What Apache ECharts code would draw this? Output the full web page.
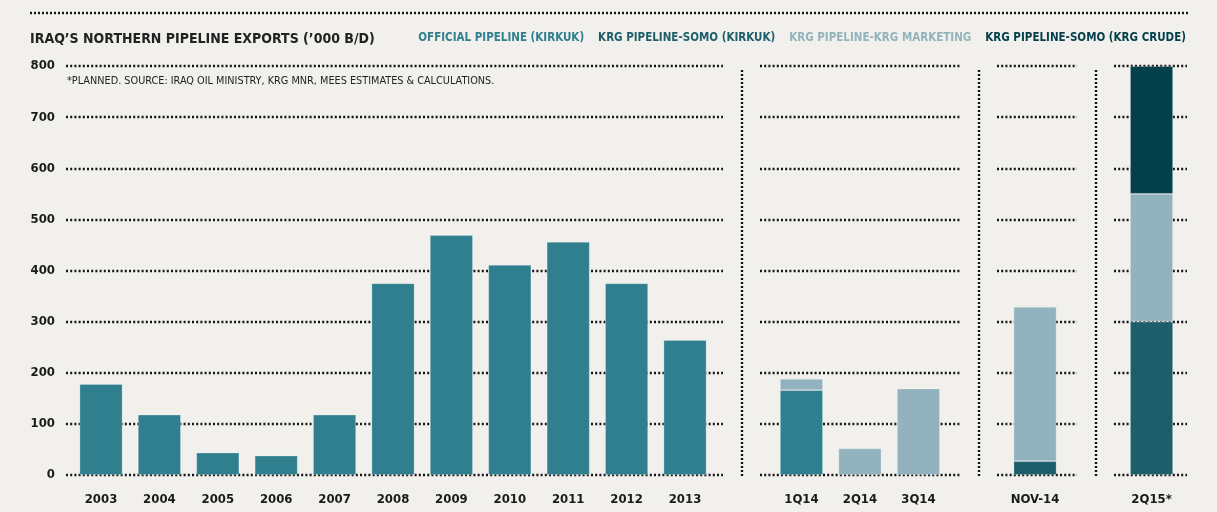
<!DOCTYPE html>
<html>
<head>
<meta charset="utf-8">
<script src="https://cdn.jsdelivr.net/npm/echarts@6/dist/echarts.min.js"></script>
<style>
html,body{margin:0;padding:0;background:#f1f0ed;}
#chart{width:1217px;height:512px;}
</style>
</head>
<body>
<div id="chart"></div>
<script>
// ---- data ----
const yearCats = ['2003','2004','2005','2006','2007','2008','2009','2010','2011','2012','2013'];
const officialYears = [178,118,44,38,118,375,469,411,456,375,264];

const quarterCats = ['1Q14','2Q14','3Q14'];
const officialQuarters = [166,null,null];
const marketingQuarters = [22,52,169];

const monthCats = ['NOV-14'];
const somoKirkukMonth = [27];
const marketingMonth = [302];

const planCats = ['2Q15*'];
const somoKirkukPlan = [300];
const marketingPlan = [250];
const krgCrudePlan = [250];

const yTicks = [0,100,200,300,400,500,600,700,800];

const names = {
  official: 'OFFICIAL PIPELINE (KIRKUK)',
  somoKirkuk: 'KRG PIPELINE-SOMO (KIRKUK)',
  marketing: 'KRG PIPELINE-KRG MARKETING',
  krgCrude: 'KRG PIPELINE-SOMO (KRG CRUDE)'
};
const colors = {
  official: '#2f7f8f',
  somoKirkuk: '#1d5e6a',
  marketing: '#92b3be',
  krgCrude: '#04404b'
};

// ---- layout ----
const FONT = '"Liberation Sans Narrow","DejaVu Sans Condensed",sans-serif';
const TOP = 66, BOTTOM_Y = 475, H = BOTTOM_Y - TOP;
const sections = [
  {bg:[66,657],  bar:[71.8,642.4], cats:yearCats},
  {bg:[760,201], bar:[772.2,175.5], cats:quarterCats},
  {bg:[997,80],  bar:[1005.8,58.5], cats:monthCats},
  {bg:[1114,73], bar:[1122.3,58.5], cats:planCats}
];

const grids = [], xAxes = [], yAxes = [];
sections.forEach((s, i) => {
  grids.push({left:s.bg[0], top:TOP, width:s.bg[1], height:H});
  xAxes.push({type:'category', gridIndex:grids.length-1, data:s.cats, show:false});
  yAxes.push({
    type:'value', gridIndex:grids.length-1, min:0, max:800, interval:100,
    axisLine:{show:false}, axisTick:{show:false},
    axisLabel:{show:i===0, margin:11, color:'#1a1a1a', fontFamily:FONT, fontWeight:'bold', fontSize:13},
    splitLine:{show:true, lineStyle:{color:'#141414', width:2.4, type:[2,2.2]}}
  });
  grids.push({left:s.bar[0], top:TOP, width:s.bar[1], height:H});
  xAxes.push({
    type:'category', gridIndex:grids.length-1, data:s.cats,
    axisLine:{show:false}, axisTick:{show:false},
    axisLabel:{margin:18, color:'#1a1a1a', fontFamily:FONT, fontWeight:'bold', fontSize:13}
  });
  yAxes.push({type:'value', gridIndex:grids.length-1, min:0, max:800, interval:100, show:false, splitLine:{show:false}});
});

function bar(key, axisIdx, data, stack){
  return {
    name:names[key], type:'bar', xAxisIndex:axisIdx, yAxisIndex:axisIdx,
    data:data, stack:stack, barWidth:43,
    itemStyle:{color:colors[key], borderColor:'rgba(255,255,255,0.3)', borderWidth:0.8},
    emphasis:{disabled:true}, animation:false
  };
}

const series = [
  bar('official', 1, officialYears, 's1'),
  bar('official', 3, officialQuarters, 's2'),
  bar('marketing', 3, marketingQuarters, 's2'),
  bar('somoKirkuk', 5, somoKirkukMonth, 's3'),
  bar('marketing', 5, marketingMonth, 's3'),
  bar('somoKirkuk', 7, somoKirkukPlan, 's4'),
  bar('marketing', 7, marketingPlan, 's4'),
  bar('krgCrude', 7, krgCrudePlan, 's4')
];

function vline(x){
  return {type:'line', shape:{x1:x,y1:70,x2:x,y2:478}, style:{stroke:'#141414', lineWidth:2.4, lineDash:[2,2]}, silent:true};
}

const option = {
  backgroundColor:'#f1f0ed',
  animation:false,
  title:[
    {text:"IRAQ’S NORTHERN PIPELINE EXPORTS (’000 B/D)", left:25, top:27,
     textStyle:{fontFamily:FONT, fontWeight:'bold', fontSize:14, color:'#222'}},
    {text:'*PLANNED. SOURCE: IRAQ OIL MINISTRY, KRG MNR, MEES ESTIMATES & CALCULATIONS.', left:62, top:71,
     textStyle:{fontFamily:FONT, fontWeight:'normal', fontSize:10.8, color:'#222'}}
  ],
  legend:{
    right:26, top:27, itemWidth:0, itemHeight:0, itemGap:8, icon:'rect', selectedMode:false,
    textStyle:{fontFamily:FONT, fontWeight:'bold', fontSize:11.5},
    data:[
      {name:names.official, textStyle:{color:colors.official}},
      {name:names.somoKirkuk, textStyle:{color:colors.somoKirkuk}},
      {name:names.marketing, textStyle:{color:colors.marketing}},
      {name:names.krgCrude, textStyle:{color:colors.krgCrude}}
    ]
  },
  grid:grids, xAxis:xAxes, yAxis:yAxes, series:series,
  graphic:[
    {type:'line', shape:{x1:30,y1:13,x2:1190,y2:13}, style:{stroke:'#141414', lineWidth:2.4, lineDash:[2,2]}, silent:true},
    vline(742), vline(979), vline(1096)
  ]
};

const chart = echarts.init(document.getElementById('chart'), null, {renderer:'canvas'});
chart.setOption(option);
</script>
</body>
</html>
